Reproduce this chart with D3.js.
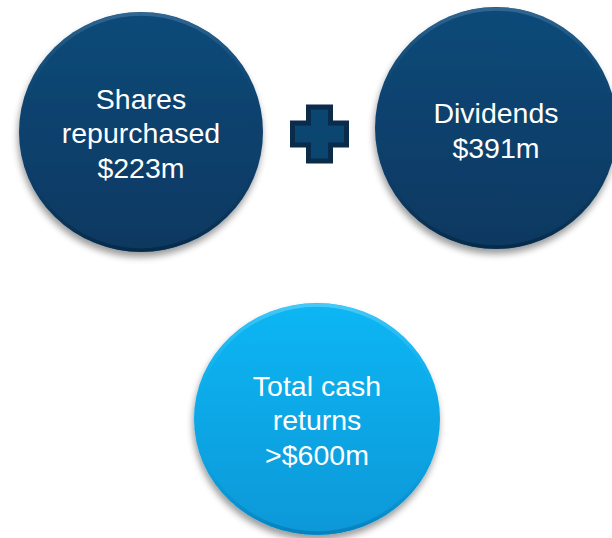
<!DOCTYPE html>
<html>
<head>
<meta charset="utf-8">
<script src="https://cdn.jsdelivr.net/npm/d3@7"></script>
<style>
  html, body { margin: 0; padding: 0; background: #ffffff; }
  svg { display: block; }
</style>
</head>
<body>
<script>
// Data
var items = ["Shares repurchased", "Dividends", "Total cash returns"];
var amounts = ["$223m", "$391m", ">$600m"];
var lines = [["Shares", "repurchased", "$223m"], ["Dividends", "$391m"], ["Total cash", "returns", ">$600m"]];
var kinds = ["part", "part", "total"];

//Width and height
var w = 612, h = 538;

var svg = d3.select("body")
	.append("svg")
	.attr("width", w)
	.attr("height", h);

var defs = svg.append("defs");

// drop shadow
var shadow = defs.append("filter")
	.attr("id", "shadow")
	.attr("x", "-20%").attr("y", "-20%")
	.attr("width", "140%").attr("height", "140%");
shadow.append("feGaussianBlur").attr("in", "SourceAlpha").attr("stdDeviation", 3.5);
shadow.append("feOffset").attr("dx", -1).attr("dy", 5).attr("result", "off");
shadow.append("feComponentTransfer").append("feFuncA").attr("type", "linear").attr("slope", 0.4);
var merge = shadow.append("feMerge");
merge.append("feMergeNode");
merge.append("feMergeNode").attr("in", "SourceGraphic");

// fills
var fills = {
	part: ["#0c4a79", "#083860"],
	total: ["#0fb6f4", "#0798d8"]
};
var rims = {
	part: ["#4a7aa3", "#04243f"],
	total: ["#6fd6fa", "#0577b0"]
};
Object.keys(fills).forEach(function(k){
	var g = defs.append("linearGradient").attr("id", "fill-" + k)
		.attr("x1", 0).attr("y1", 0).attr("x2", 0).attr("y2", 1);
	g.append("stop").attr("offset", "0%").attr("stop-color", fills[k][0]);
	g.append("stop").attr("offset", "100%").attr("stop-color", fills[k][1]);
	var r = defs.append("linearGradient").attr("id", "rim-" + k)
		.attr("x1", 0).attr("y1", 0).attr("x2", 0).attr("y2", 1);
	r.append("stop").attr("offset", "0%").attr("stop-color", rims[k][0]).attr("stop-opacity", 0.6);
	r.append("stop").attr("offset", "40%").attr("stop-color", fills[k][0]).attr("stop-opacity", 0);
	r.append("stop").attr("offset", "65%").attr("stop-color", fills[k][1]).attr("stop-opacity", 0);
	r.append("stop").attr("offset", "100%").attr("stop-color", rims[k][1]).attr("stop-opacity", 0.7);
});

// layout: two parts on top row, total centered below
var x = d3.scalePoint().domain(items.slice(0, 2)).range([141, 496]);
var layout = [
	{ cx: x(items[0]), cy: 132, rx: 122, ry: 120 },
	{ cx: x(items[1]), cy: 128, rx: 121, ry: 121 },
	{ cx: 317, cy: 419, rx: 123, ry: 116 }
];

var nodes = svg.selectAll("g.node")
	.data(items)
	.enter()
	.append("g")
	.attr("class", "node")
	.attr("transform", function(d, i){ return "translate(" + layout[i].cx + "," + layout[i].cy + ")"; });

nodes.append("ellipse")
	.attr("rx", function(d, i){ return layout[i].rx; })
	.attr("ry", function(d, i){ return layout[i].ry; })
	.attr("fill", function(d, i){ return "url(#fill-" + kinds[i] + ")"; })
	.attr("filter", "url(#shadow)");

// bevel rim
nodes.append("ellipse")
	.attr("rx", function(d, i){ return layout[i].rx - 2; })
	.attr("ry", function(d, i){ return layout[i].ry - 2; })
	.attr("fill", "none")
	.attr("stroke", function(d, i){ return "url(#rim-" + kinds[i] + ")"; })
	.attr("stroke-width", 3.5);

var lh = 34.5;
nodes.append("text")
	.attr("text-anchor", "middle")
	.attr("fill", "#ffffff")
	.style("font-family", "Liberation Sans, Arial, sans-serif")
	.style("font-size", "28.5px")
	.each(function(d, i){
		var ls = lines[i];
		var mid = (ls.length - 1) / 2;
		var off = ls.length == 3 ? 11 : 12.5;
		d3.select(this).selectAll("tspan")
			.data(ls)
			.enter()
			.append("tspan")
			.attr("x", 0)
			.attr("y", function(t, j){ return off + (j - mid) * lh; })
			.text(function(t){ return t; });
	});

// plus sign between the two parts
var px = (x(items[0]) + x(items[1])) / 2 + 1, py = 134;
var arm = 27, half = 11;
var plus = "M" + (px - half) + "," + (py - arm) +
	"h" + (2 * half) + "v" + (arm - half) + "h" + (arm - half) +
	"v" + (2 * half) + "h" + (half - arm) + "v" + (arm - half) +
	"h" + (-2 * half) + "v" + (half - arm) + "h" + (half - arm) +
	"v" + (-2 * half) + "h" + (arm - half) + "Z";
svg.append("path")
	.attr("d", plus)
	.attr("fill", "#0a4670")
	.attr("stroke", "#0a2b4a")
	.attr("stroke-width", 5)
	.attr("stroke-linejoin", "miter");
</script>
</body>
</html>
